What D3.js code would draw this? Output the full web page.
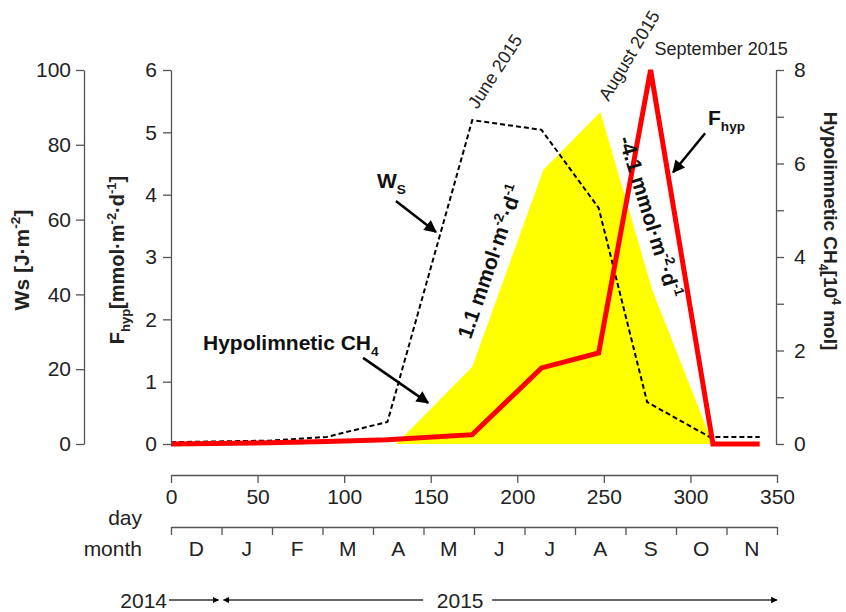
<!DOCTYPE html>
<html>
<head>
<meta charset="utf-8">
<script src="https://cdn.jsdelivr.net/npm/d3@7"></script>
<style>
  body { margin: 0; background: #fff; }
  svg { font-family: "Liberation Sans", Arial, sans-serif; }
</style>
</head>
<body>
<svg width="846" height="612"></svg>
<script>
// day of sampling
var wsDays = [0, 57, 90, 125, 174, 214, 247, 275, 311, 340]
var wsValues = [0.5, 0.9, 1.9, 5.9, 86.6, 84, 63.1, 11.2, 1.9, 1.9]

var fDays = [0, 57, 90, 125, 174, 214, 247, 277, 313, 340]
var fValues = [0, 0.02, 0.04, 0.07, 0.15, 1.22, 1.46, 6, 0, 0]

var chDays = [130, 174, 215, 248, 278, 313]
var chValues = [0, 1.65, 5.86, 7.1, 3.29, 0]

var dayTicks = [0, 50, 100, 150, 200, 250, 300, 350]
var wsTicks = [0, 20, 40, 60, 80, 100]
var fTicks = [0, 1, 2, 3, 4, 5, 6]
var chTicks = [0, 1, 2, 3, 4, 5, 6, 7, 8]
var months = ["D", "J", "F", "M", "A", "M", "J", "J", "A", "S", "O", "N"]

var svg = d3.select("svg")
var axisColor = "#555", textColor = "#222"
var fontSize = 21

var x = d3.scaleLinear().domain([0, 350]).range([171, 777])
var yWs = d3.scaleLinear().domain([0, 100]).range([444, 70])
var yF = d3.scaleLinear().domain([0, 6]).range([444, 70])
var yCh = d3.scaleLinear().domain([0, 8]).range([444, 70])

// arrow markers
var defs = svg.append("defs")
defs.append("marker").attr("id", "bigArrow")
    .attr("viewBox", "0 0 10 10").attr("refX", 9).attr("refY", 5)
    .attr("markerWidth", 6).attr("markerHeight", 5).attr("markerUnits", "strokeWidth")
    .attr("orient", "auto")
    .append("path").attr("d", "M0,0 L10,5 L0,10 z").attr("fill", "#000")
defs.append("marker").attr("id", "smallArrow")
    .attr("viewBox", "0 0 10 10").attr("refX", 9).attr("refY", 5)
    .attr("markerWidth", 5).attr("markerHeight", 5).attr("markerUnits", "strokeWidth")
    .attr("orient", "auto")
    .append("path").attr("d", "M0,0 L10,5 L0,10 z").attr("fill", "#000")

function rich(sel, parts, size) {
    var shift = 0
    parts.forEach(function (p) {
        var target = p[1] == "sup" ? -0.42 * size : p[1] == "sub" ? 0.28 * size : 0
        sel.append("tspan")
            .attr("dy", target - shift)
            .attr("font-size", p[1] == "n" ? size : size * 0.65)
            .text(p[0])
        shift = target
    })
}

function styleAxis(g) {
    g.selectAll("path, line").attr("stroke", axisColor).attr("stroke-width", 1.3)
    g.selectAll("text").attr("fill", textColor).attr("font-size", fontSize).attr("font-family", null)
}

// data layers
var chData = chDays.map(function (d, i) { return { day: d, v: chValues[i] } })
svg.append("path")
    .datum(chData)
    .attr("fill", "#ffff00")
    .attr("d", d3.area().x(function (d) { return x(d.day) }).y0(yCh(0)).y1(function (d) { return yCh(d.v) }))

var wsData = wsDays.map(function (d, i) { return { day: d, v: wsValues[i] } })
svg.append("path")
    .datum(wsData)
    .attr("fill", "none")
    .attr("stroke", "#000")
    .attr("stroke-width", 2)
    .attr("stroke-dasharray", "5,3")
    .attr("d", d3.line().x(function (d) { return x(d.day) }).y(function (d) { return yWs(d.v) }))

var fData = fDays.map(function (d, i) { return { day: d, v: fValues[i] } })
svg.append("path")
    .datum(fData)
    .attr("fill", "none")
    .attr("stroke", "#ff0000")
    .attr("stroke-width", 5)
    .attr("stroke-linejoin", "miter")
    .attr("d", d3.line().x(function (d) { return x(d.day) }).y(function (d) { return yF(d.v) }))

// y axes
svg.append("g").attr("transform", "translate(84,0)")
    .call(d3.axisLeft(yWs).tickValues(wsTicks).tickSizeInner(8).tickSizeOuter(0).tickPadding(5))
    .call(styleAxis)
svg.append("g").attr("transform", "translate(171,0)")
    .call(d3.axisLeft(yF).tickValues(fTicks).tickSizeInner(8).tickSizeOuter(0).tickPadding(6)
        .tickFormat(d3.format("d")))
    .call(styleAxis)
svg.append("g").attr("transform", "translate(776,0)")
    .call(d3.axisRight(yCh).tickValues(chTicks).tickSizeInner(8).tickSizeOuter(0).tickPadding(10)
        .tickFormat(function (d) { return d % 2 == 0 ? d : "" }))
    .call(styleAxis)

// day axis
svg.append("g").attr("transform", "translate(0,475)")
    .call(d3.axisBottom(x).tickValues(dayTicks).tickSizeInner(8).tickSizeOuter(0).tickPadding(6))
    .call(styleAxis)

// month axis
var monthBounds = d3.range(13).map(function (i) { return i * 350 / 12 })
svg.append("g").attr("transform", "translate(0,527)")
    .call(d3.axisBottom(x).tickValues(monthBounds).tickSizeInner(8).tickSizeOuter(0).tickFormat(""))
    .call(styleAxis)
var mBand = d3.scaleBand().domain(d3.range(12)).range(x.range())
svg.append("g").selectAll("text").data(months).join("text")
    .attr("x", function (d, i) { return mBand(i) + mBand.bandwidth() / 2 })
    .attr("y", 548)
    .attr("dy", "0.36em")
    .attr("text-anchor", "middle")
    .attr("font-size", fontSize)
    .attr("fill", textColor)
    .text(function (d) { return d })

svg.append("text").attr("x", 142).attr("y", 517).attr("dy", "0.36em")
    .attr("text-anchor", "end").attr("font-size", fontSize).attr("fill", textColor).text("day")
svg.append("text").attr("x", 142).attr("y", 548).attr("dy", "0.36em")
    .attr("text-anchor", "end").attr("font-size", fontSize).attr("fill", textColor).text("month")

// year timeline
var yearY = 600
var janStart = 350 / 12
svg.append("text").attr("x", x(0) - 4).attr("y", yearY).attr("dy", "0.36em")
    .attr("text-anchor", "end").attr("font-size", fontSize).attr("fill", textColor).text("2014")
svg.append("line").attr("x1", x(0) - 2).attr("x2", x(janStart) - 3).attr("y1", yearY).attr("y2", yearY)
    .attr("stroke", "#333").attr("stroke-width", 1.3).attr("marker-end", "url(#smallArrow)")
var y15 = x(167)
svg.append("line").attr("x1", y15 - 37).attr("x2", x(janStart) + 2).attr("y1", yearY).attr("y2", yearY)
    .attr("stroke", "#333").attr("stroke-width", 1.3).attr("marker-end", "url(#smallArrow)")
svg.append("line").attr("x1", y15 + 32).attr("x2", x(350)).attr("y1", yearY).attr("y2", yearY)
    .attr("stroke", "#333").attr("stroke-width", 1.3).attr("marker-end", "url(#smallArrow)")
svg.append("text").attr("x", y15).attr("y", yearY).attr("dy", "0.36em")
    .attr("text-anchor", "middle").attr("font-size", fontSize).attr("fill", textColor).text("2015")

// axis titles
var t1 = svg.append("text").attr("transform", "translate(29,260) rotate(-90)")
    .attr("text-anchor", "middle").attr("font-weight", "bold").attr("font-size", 21).attr("fill", textColor)
rich(t1, [["Ws [J·m", "n"], ["-2", "sup"], ["]", "n"]], 21)

var t2 = svg.append("text").attr("transform", "translate(124,260) rotate(-90)")
    .attr("text-anchor", "middle").attr("font-weight", "bold").attr("font-size", 20).attr("fill", textColor)
rich(t2, [["F", "n"], ["hyp", "sub"], ["[mmol·m", "n"], ["-2", "sup"], ["·d", "n"], ["-1", "sup"], ["]", "n"]], 20)

var t3 = svg.append("text").attr("transform", "translate(824,231) rotate(90)")
    .attr("text-anchor", "middle").attr("font-weight", "bold").attr("font-size", 19).attr("fill", textColor)
rich(t3, [["Hypolimnetic CH", "n"], ["4", "sub"], ["[10", "n"], ["4", "sup"], [" mol]", "n"]], 19)

// annotations
function arrow(tipX, tipY, dx, dy) {
    svg.append("line")
        .attr("x1", tipX + dx).attr("y1", tipY + dy).attr("x2", tipX).attr("y2", tipY)
        .attr("stroke", "#000").attr("stroke-width", 2.5).attr("marker-end", "url(#bigArrow)")
}
arrow(x(153), yWs(56.7), -40, -31)
arrow(x(148.5), yCh(0.88), -65, -45)
arrow(x(290), yF(4.36), 32, -39)

var a1 = svg.append("text").attr("x", 377).attr("y", 188)
    .attr("font-weight", "bold").attr("font-size", 21).attr("fill", "#111")
rich(a1, [["W", "n"], ["S", "sub"]], 21)
var a2 = svg.append("text").attr("x", 203).attr("y", 350)
    .attr("font-weight", "bold").attr("font-size", 21).attr("fill", "#111")
rich(a2, [["Hypolimnetic CH", "n"], ["4", "sub"]], 21)
var a3 = svg.append("text").attr("x", 708).attr("y", 125)
    .attr("font-weight", "bold").attr("font-size", 21).attr("fill", "#111")
rich(a3, [["F", "n"], ["hyp", "sub"]], 21)

var r1 = svg.append("text").attr("transform", "translate(497,264) rotate(-71)")
    .attr("text-anchor", "middle").attr("dy", "0.35em")
    .attr("font-weight", "bold").attr("font-size", 21).attr("fill", "#111")
rich(r1, [["1.1 mmol·m", "n"], ["-2", "sup"], ["·d", "n"], ["-1", "sup"]], 21)
var r2 = svg.append("text").attr("transform", "translate(643,219) rotate(73)")
    .attr("text-anchor", "middle")
    .attr("font-weight", "bold").attr("font-size", 21).attr("fill", "#111")
rich(r2, [["-4.1 mmol·m", "n"], ["-2", "sup"], ["·d", "n"], ["-1", "sup"]], 21)

// month labels at the peaks
svg.append("text").attr("transform", "translate(" + (x(174) + 5) + "," + (yWs(86.6) - 10) + ") rotate(-57)")
    .attr("font-size", 18).attr("fill", textColor).text("June 2015")
svg.append("text").attr("transform", "translate(" + (x(248) + 8) + "," + (yCh(7.1) - 10) + ") rotate(-59)")
    .attr("font-size", 18).attr("fill", textColor).text("August 2015")
svg.append("text").attr("x", x(277) + 4).attr("y", yF(6) - 15)
    .attr("font-size", 18).attr("fill", textColor).text("September 2015")
</script>
</body>
</html>
